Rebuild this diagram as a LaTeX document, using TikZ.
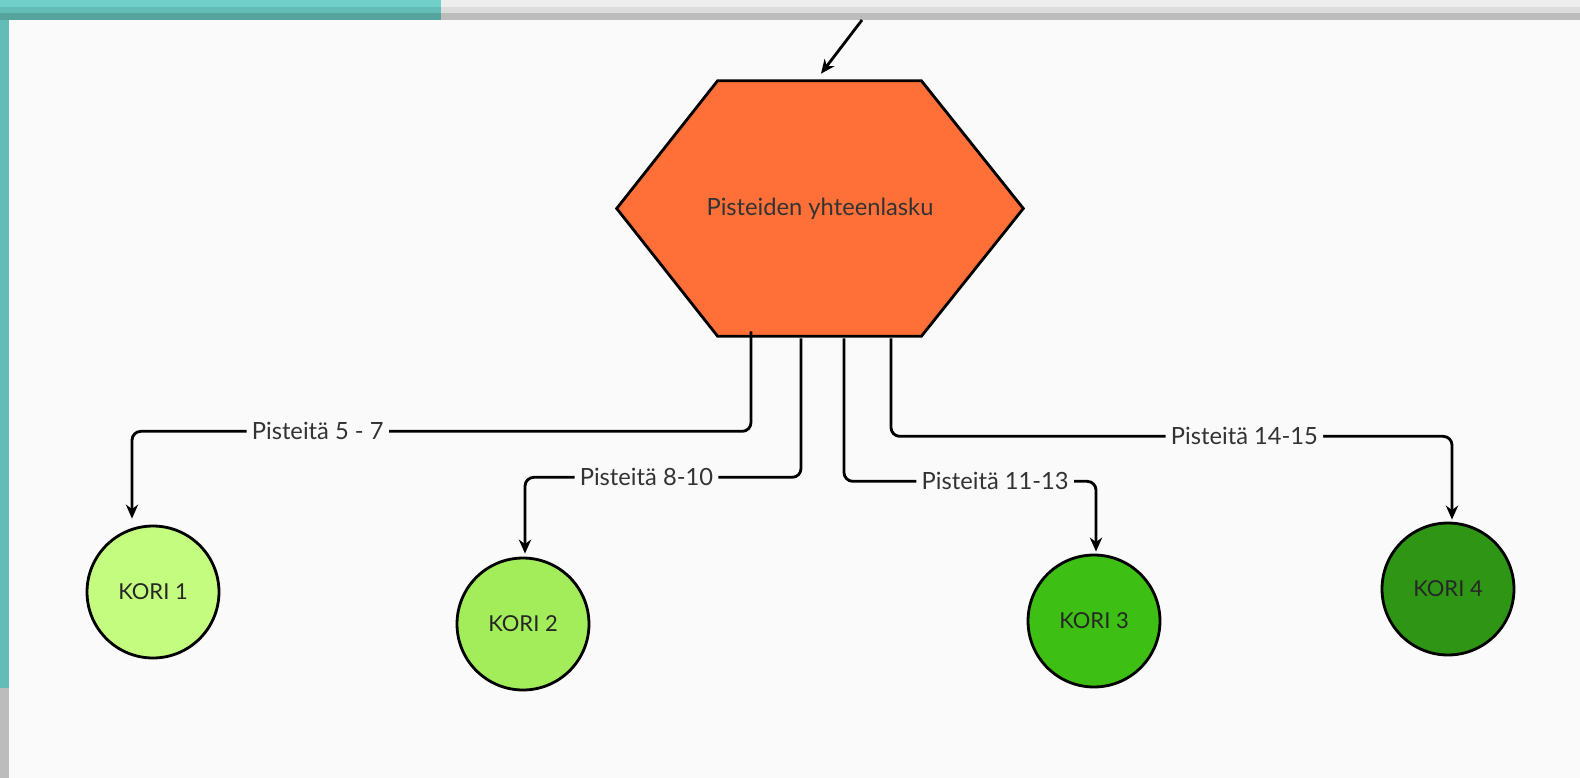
\documentclass[tikz,border=0pt]{standalone}
\usepackage{fontspec}
\setmainfont{Lato}
\usepackage{xcolor}
\usetikzlibrary{arrows.meta,backgrounds}
\definecolor{pagebg}{HTML}{FAFAFA}
\definecolor{hexorange}{HTML}{FF7038}
\definecolor{kori1}{HTML}{C4FC7F}
\definecolor{kori2}{HTML}{A3EC5A}
\definecolor{kori3}{HTML}{3DBF14}
\definecolor{kori4}{HTML}{2E9614}
\definecolor{tealA}{HTML}{70CFC8}
\definecolor{tealB}{HTML}{63BDB6}
\definecolor{tealC}{HTML}{55A39B}
\definecolor{greyA}{HTML}{EDEDED}
\definecolor{greyB}{HTML}{DCDCDC}
\definecolor{greyC}{HTML}{BCBCBC}
\definecolor{labeltext}{HTML}{333333}
\tikzset{
  hexa/.style={draw=black, fill=hexorange, line width=1.6pt},
  kori/.style={circle, draw=black, line width=1.6pt, minimum size=2.64cm, inner sep=0pt,
    text=black!85, font=\fontsize{12.5}{15}\selectfont},
  conn/.style={line width=1.6pt, rounded corners=5pt, -{Stealth[length=8pt,width=7pt]}},
  lbl/.style={fill=pagebg, inner sep=3pt, text=labeltext, font=\fontsize{13.5}{16}\selectfont},
}

\begin{document}
\begin{tikzpicture}[x=0.02cm, y=-0.02cm]
\useasboundingbox (0,0) rectangle (1580,778);

\node (sum) at (820,208.5) [minimum width=8.12cm, minimum height=5.1cm, inner sep=0pt,
  text=black!80, font=\fontsize{13.5}{16}\selectfont] {Pisteiden yhteenlasku};

\begin{scope}[on background layer]
  \fill[pagebg] (0,0) rectangle (1580,778);
  \fill[greyA] (441,0) rectangle (1580,7);
  \fill[greyB] (441,7) rectangle (1580,13);
  \fill[greyC] (441,13) rectangle (1580,20);
  \fill[tealA] (0,0) rectangle (441,7);
  \fill[tealB] (0,7) rectangle (441,13);
  \fill[tealC] (0,13) rectangle (441,20);
  \fill[tealB] (0,20) rectangle (9,688);
  \fill[greyC] (0,688) rectangle (9,778);
  \draw[hexa] (sum.west) -- ([shift={(101,0)}]sum.north west) -- ([shift={(-102,0)}]sum.north east)
    -- (sum.east) -- ([shift={(-102,0)}]sum.south east) -- ([shift={(101,0)}]sum.south west) -- cycle;
\end{scope}

\foreach \i/\x/\y in {1/153/592, 2/523/624, 3/1094/621, 4/1448/589}
  \node[kori, fill=kori\i] (k\i) at (\x,\y) {KORI \i};

\coordinate (top) at (862,20);
\draw[line width=1.6pt, -{Stealth[length=8pt,width=7pt]}] (top) -- ([shift={(1,-7)}]sum.north);

\coordinate (h1) at ([shift={(-69,95)}]sum.south);
\coordinate (h2) at ([shift={(-19,141)}]sum.south);
\coordinate (h3) at ([shift={(24,145)}]sum.south);
\coordinate (h4) at ([shift={(71,100)}]sum.south);

\draw[conn] ([shift={(-69,-5)}]sum.south) -- (h1) -| node[lbl, pos=0.35] {Pisteitä 5 - 7} ([shift={(-21,-6)}]k1.north);
\draw[conn] ([shift={(-19,2)}]sum.south) -- (h2) -| node[lbl, pos=0.28] {Pisteitä 8-10} ([shift={(2,-3)}]k2.north);
\draw[conn] ([shift={(24,2)}]sum.south) -- (h3) -| node[lbl, pos=0.30] {Pisteitä 11-13} ([shift={(2,-2)}]k3.north);
\draw[conn] ([shift={(71,2)}]sum.south) -- (h4) -| node[lbl, pos=0.315] {Pisteitä 14-15} ([shift={(4,-2)}]k4.north);
\end{tikzpicture}
\end{document}
